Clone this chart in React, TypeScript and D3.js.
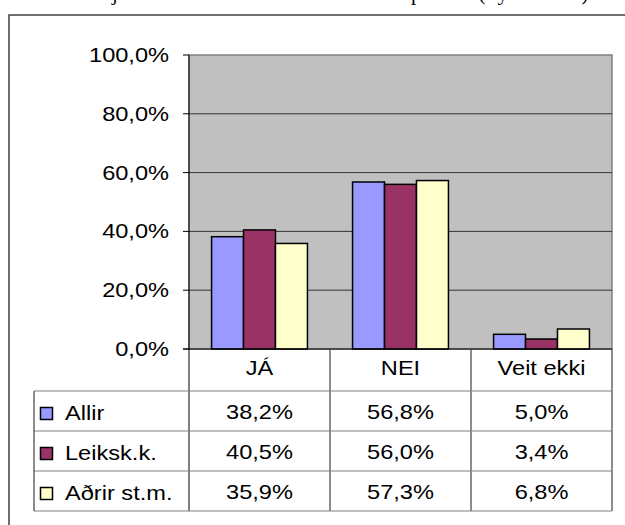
import React from "react";
import * as d3 from "d3";

const categories = ["JÁ", "NEI", "Veit ekki"];
const seriesNames = ["Allir", "Leiksk.k.", "Aðrir st.m."];
const allir = [38.2, 56.8, 5.0];
const leiksk = [40.5, 56.0, 3.4];
const adrir = [35.9, 57.3, 6.8];
const seriesValues = [allir, leiksk, adrir];
const seriesColors = ["#9999FF", "#993366", "#FFFFCC"];
const yTicks = [0, 20, 40, 60, 80, 100];
// title is cut off at the top edge in the reference: only descenders show
const titleChunks = [
  { text: "Tel", x: 112, anchor: "end" },
  { text: "ja að kennarar ættu hærri laun ski", x: 112, anchor: "start" },
  { text: "pta máli ", x: 411, anchor: "start" },
  { text: "(í ", x: 478.5, anchor: "start" },
  { text: "ykkar liði", x: 497.5, anchor: "start" },
  { text: ")", x: 581.5, anchor: "start" },
];

const W = 625;
const H = 525;
const plotLeft = 189;
const plotRight = 612;
const plotTop = 55;
const plotBottom = 349;
const headerBottom = 391;
const tableBottom = 511;
const legendLeft = 34;
const SX = 1.18;
const FONT = "'Liberation Sans', Arial, sans-serif";

const fmt = (v: number) => v.toFixed(1).replace(".", ",") + "%";

function T({ x, y, anchor = "middle", children }: { x: number; y: number; anchor?: string; children: React.ReactNode }) {
  return (
    <text
      transform={`translate(${x},${y}) scale(${SX},1)`}
      textAnchor={anchor as any}
      fontFamily={FONT}
      fontSize={20}
      fill="#000"
    >
      {children}
    </text>
  );
}

export default function App() {
  const x = d3.scaleBand<string>().domain(categories).range([plotLeft, plotRight]).padding(0);
  const bw = x.bandwidth();
  const inner = d3
    .scaleBand<string>()
    .domain(seriesNames)
    .range([bw * 0.16, bw * 0.84])
    .padding(0);
  const y = d3.scaleLinear().domain([0, 100]).range([plotBottom, plotTop]);
  const rows = d3.scaleBand<string>().domain(seriesNames).range([headerBottom, tableBottom]).padding(0);

  return (
    <svg
      width={W}
      height={H}
      style={{ position: "absolute", left: 0, top: 0, background: "#fff" }}
    >
      {/* title (cut off at top, as in the reference) */}
      {titleChunks.map((c, i) => (
        <text
          key={"tt" + i}
          x={c.x}
          y={0}
          textAnchor={c.anchor as any}
          fontFamily="'Liberation Serif', 'Times New Roman', serif"
          fontSize={21}
          fill="#000"
        >
          {c.text}
        </text>
      ))}
      {/* outer frame */}
      <rect x={9} y={15} width={W} height={H} fill="none" stroke="#404040" strokeWidth={1.5} />

      {/* plot area */}
      <rect x={plotLeft} y={plotTop} width={plotRight - plotLeft} height={plotBottom - plotTop} fill="#C0C0C0" stroke="#808080" strokeWidth={1.5} />
      {yTicks.filter((t) => t > 0 && t < 100).map((t) => (
        <line key={"g" + t} x1={plotLeft} x2={plotRight} y1={y(t)} y2={y(t)} stroke="#333" strokeWidth={1} />
      ))}

      {/* bars */}
      {seriesValues.map((vals, si) =>
        vals.map((v, ci) => (
          <rect
            key={`b${si}-${ci}`}
            x={(x(categories[ci]) as number) + (inner(seriesNames[si]) as number)}
            y={y(v)}
            width={inner.bandwidth()}
            height={y(0) - y(v)}
            fill={seriesColors[si]}
            stroke="#000"
            strokeWidth={1.5}
          />
        ))
      )}

      {/* y axis */}
      <line x1={plotLeft} x2={plotLeft} y1={plotTop} y2={tableBottom} stroke="#000" strokeWidth={1} />
      {yTicks.map((t) => (
        <g key={"t" + t}>
          <line x1={plotLeft - 6} x2={plotLeft} y1={y(t)} y2={y(t)} stroke="#000" strokeWidth={1} />
          <T x={169} y={y(t) + 7} anchor="end">{fmt(t)}</T>
        </g>
      ))}
      <line x1={plotLeft - 6} x2={plotRight} y1={plotBottom} y2={plotBottom} stroke="#000" strokeWidth={1} />

      {/* data table */}
      {categories.map((c) => (
        <line key={"v" + c} x1={(x(c) as number) + bw} x2={(x(c) as number) + bw} y1={plotBottom} y2={tableBottom} stroke="#404040" strokeWidth={1.2} />
      ))}
      <line x1={legendLeft} x2={plotRight} y1={headerBottom} y2={headerBottom} stroke="#808080" strokeWidth={1.2} />
      {seriesNames.map((s) => (
        <line key={"h" + s} x1={legendLeft} x2={plotRight} y1={(rows(s) as number) + rows.bandwidth()} y2={(rows(s) as number) + rows.bandwidth()} stroke="#808080" strokeWidth={1.2} />
      ))}
      <line x1={legendLeft} x2={legendLeft} y1={headerBottom} y2={tableBottom} stroke="#404040" strokeWidth={1.2} />

      {categories.map((c) => (
        <T key={"c" + c} x={(x(c) as number) + bw / 2} y={375}>{c}</T>
      ))}
      {seriesNames.map((s, si) => {
        const ry = rows(s) as number;
        const mid = ry + rows.bandwidth() / 2;
        return (
          <g key={"r" + s}>
            <rect x={40.5} y={mid - 3.5} width={12} height={12} fill={seriesColors[si]} stroke="#000" strokeWidth={1.5} />
            <T x={65} y={mid + 9} anchor="start">{s}</T>
            {categories.map((c, ci) => (
              <T key={"v" + c} x={(x(c) as number) + bw / 2} y={mid + 8}>{fmt(seriesValues[si][ci])}</T>
            ))}
          </g>
        );
      })}
    </svg>
  );
}
